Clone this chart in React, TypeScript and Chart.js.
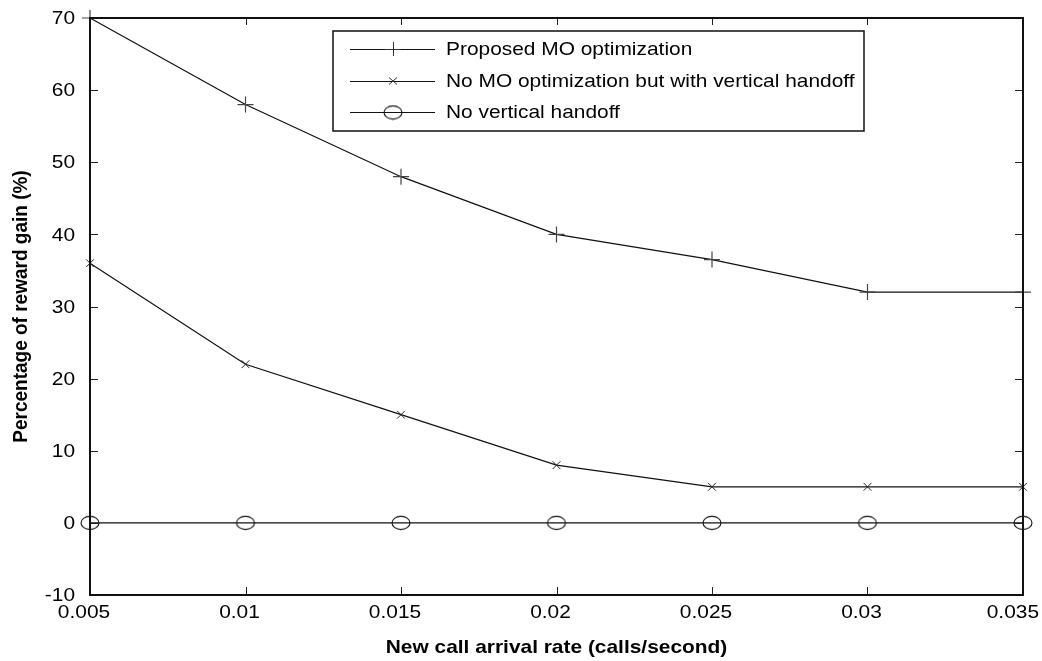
import React, { useEffect, useRef } from "react";
import { Chart, registerables } from "chart.js";

Chart.register(...registerables);

const xValues = [0.005, 0.01, 0.015, 0.02, 0.025, 0.03, 0.035];
const xTickLabels = ["0.005", "0.01", "0.015", "0.02", "0.025", "0.03", "0.035"];
const yTicks = [-10, 0, 10, 20, 30, 40, 50, 60, 70];
const yTickLabels = ["-10", "0", "10", "20", "30", "40", "50", "60", "70"];
const proposed = [70, 58, 48, 40, 36.5, 32, 32];
const noMO = [36, 22, 15, 8, 5, 5, 5];
const noVH = [0, 0, 0, 0, 0, 0, 0];
const seriesNames = [
  "Proposed MO optimization",
  "No MO optimization but with vertical handoff",
  "No vertical handoff",
];
const xTitle = "New call arrival rate (calls/second)";
const yTitle = "Percentage of reward gain (%)";

const FONT = "'Liberation Sans', Arial, sans-serif";
const STRETCH = 1.1;

function makeEllipse(): HTMLCanvasElement {
  const c = document.createElement("canvas");
  c.width = 22;
  c.height = 16;
  const ctx = c.getContext("2d")!;
  ctx.strokeStyle = "#111";
  ctx.lineWidth = 1.1;
  ctx.beginPath();
  ctx.ellipse(11, 8, 9, 6.6, 0, 0, Math.PI * 2);
  ctx.stroke();
  return c;
}

function stretchedText(ctx: CanvasRenderingContext2D, text: string, x: number, y: number, align: CanvasTextAlign) {
  ctx.save();
  ctx.translate(x, y);
  ctx.scale(STRETCH, 1);
  ctx.textAlign = align;
  ctx.fillText(text, 0, 0);
  ctx.restore();
}

export default function App() {
  const ref = useRef<HTMLCanvasElement | null>(null);
  useEffect(() => {
    document.body.style.margin = "0";
    const ellipse = makeEllipse();
    const toPts = (arr: number[]) => arr.map((y, i) => ({ x: xValues[i], y }));

    const framePlugin = {
      id: "frame",
      afterDraw(chart: any) {
        const { ctx, chartArea: a, scales, width } = chart;
        const xs = scales.x;
        const ys = scales.y;
        ctx.save();
        ctx.strokeStyle = "#222";
        ctx.lineWidth = 1;
        // ticks
        ctx.beginPath();
        for (const v of yTicks) {
          const py = Math.round(ys.getPixelForValue(v)) + 0.5;
          ctx.moveTo(a.left, py);
          ctx.lineTo(a.left + 8, py);
          ctx.moveTo(a.right, py);
          ctx.lineTo(a.right - 8, py);
        }
        for (const v of xValues) {
          const px = Math.round(xs.getPixelForValue(v)) + 0.5;
          ctx.moveTo(px, a.bottom);
          ctx.lineTo(px, a.bottom - 8);
          ctx.moveTo(px, a.top);
          ctx.lineTo(px, a.top + 7);
        }
        ctx.stroke();
        // frame
        ctx.lineWidth = 2;
        ctx.strokeStyle = "#111";
        ctx.strokeRect(a.left, a.top, a.right - a.left, a.bottom - a.top);

        // tick labels
        ctx.fillStyle = "#000";
        ctx.font = `19px ${FONT}`;
        ctx.textBaseline = "middle";
        yTicks.forEach((v, i) => {
          stretchedText(ctx, yTickLabels[i], a.left - 15, ys.getPixelForValue(v) + 1, "right");
        });
        xValues.forEach((v, i) => {
          const half = (ctx.measureText(xTickLabels[i]).width * STRETCH) / 2;
          const cx = Math.min(xs.getPixelForValue(v) - 6, width - 3 - half);
          stretchedText(ctx, xTickLabels[i], cx, a.bottom + 18, "center");
        });

        // axis titles
        ctx.font = `bold 19px ${FONT}`;
        stretchedText(ctx, xTitle, (a.left + a.right) / 2, 648, "center");
        ctx.save();
        ctx.translate(21, (a.top + a.bottom) / 2);
        ctx.rotate(-Math.PI / 2);
        ctx.scale(1, STRETCH);
        ctx.textAlign = "center";
        ctx.fillText(yTitle, 0, 0);
        ctx.restore();

        // legend
        const lx = 333, ly = 31, lw = 531, lh = 100;
        ctx.fillStyle = "#fff";
        ctx.fillRect(lx, ly, lw, lh);
        ctx.lineWidth = 1.5;
        ctx.strokeStyle = "#111";
        ctx.strokeRect(lx, ly, lw, lh);
        const rows = [49, 81, 112];
        ctx.font = `19px ${FONT}`;
        rows.forEach((ry, i) => {
          ctx.strokeStyle = "#111";
          ctx.lineWidth = 1;
          ctx.beginPath();
          ctx.moveTo(350, ry + 0.5);
          ctx.lineTo(435, ry + 0.5);
          ctx.stroke();
          const mx = 393;
          ctx.strokeStyle = "#333";
          ctx.beginPath();
          if (i === 0) {
            ctx.moveTo(mx - 8, ry + 0.5);
            ctx.lineTo(mx + 8, ry + 0.5);
            ctx.moveTo(mx + 0.5, ry - 7);
            ctx.lineTo(mx + 0.5, ry + 7);
            ctx.stroke();
          } else if (i === 1) {
            ctx.moveTo(mx - 4, ry - 3.5);
            ctx.lineTo(mx + 4, ry + 3.5);
            ctx.moveTo(mx - 4, ry + 3.5);
            ctx.lineTo(mx + 4, ry - 3.5);
            ctx.stroke();
          } else {
            ctx.drawImage(ellipse, mx - ellipse.width / 2, ry - ellipse.height / 2 + 0.5);
          }
          ctx.fillStyle = "#000";
          ctx.textBaseline = "middle";
          stretchedText(ctx, seriesNames[i], 446, ry + 1, "left");
        });
        ctx.restore();
      },
    };

    const zeroPad = (s: any) => {
      s.paddingLeft = 0;
      s.paddingRight = 0;
      s.paddingTop = 0;
      s.paddingBottom = 0;
    };

    const chart = new Chart(ref.current!, {
      type: "line",
      data: {
        datasets: [
          {
            label: seriesNames[0],
            data: toPts(proposed),
            borderColor: "#111",
            borderWidth: 1.2,
            pointStyle: "cross",
            pointRadius: 8,
            pointBorderColor: "#444",
            pointBorderWidth: 1.2,
            pointBackgroundColor: "transparent",
            clip: false as any,
          },
          {
            label: seriesNames[1],
            data: toPts(noMO),
            borderColor: "#111",
            borderWidth: 1.2,
            pointStyle: "crossRot",
            pointRadius: 5.5,
            pointBorderColor: "#222",
            pointBorderWidth: 1,
            pointBackgroundColor: "transparent",
            clip: false as any,
          },
          {
            label: seriesNames[2],
            data: toPts(noVH),
            borderColor: "#111",
            borderWidth: 1.2,
            pointStyle: ellipse as any,
            pointRadius: 8,
            clip: false as any,
          },
        ],
      },
      options: {
        animation: false,
        responsive: false,
        layout: { autoPadding: false, padding: { left: 0, top: 18, right: 19, bottom: 0 } },
        plugins: { legend: { display: false }, tooltip: { enabled: false } },
        scales: {
          x: {
            type: "linear",
            min: 0.005,
            max: 0.035,
            afterFit: (s: any) => {
              s.height = 66;
              zeroPad(s);
            },
            afterBuildTicks: (s: any) => {
              s.ticks = xValues.map((v) => ({ value: v }));
            },
            ticks: { display: false },
            grid: { display: false, drawTicks: false, tickLength: 0 },
            border: { display: false },
          },
          y: {
            type: "linear",
            min: -10,
            max: 70,
            afterFit: (s: any) => {
              s.width = 90;
              zeroPad(s);
            },
            afterBuildTicks: (s: any) => {
              s.ticks = yTicks.map((v) => ({ value: v }));
            },
            ticks: { display: false },
            grid: { display: false, drawTicks: false, tickLength: 0 },
            border: { display: false },
          },
        },
      },
      plugins: [framePlugin],
    });
    return () => chart.destroy();
  }, []);
  return (
    <div style={{ width: 1042, height: 661 }}>
      <canvas ref={ref} width={1042} height={661} style={{ display: "block" }} />
    </div>
  );
}
